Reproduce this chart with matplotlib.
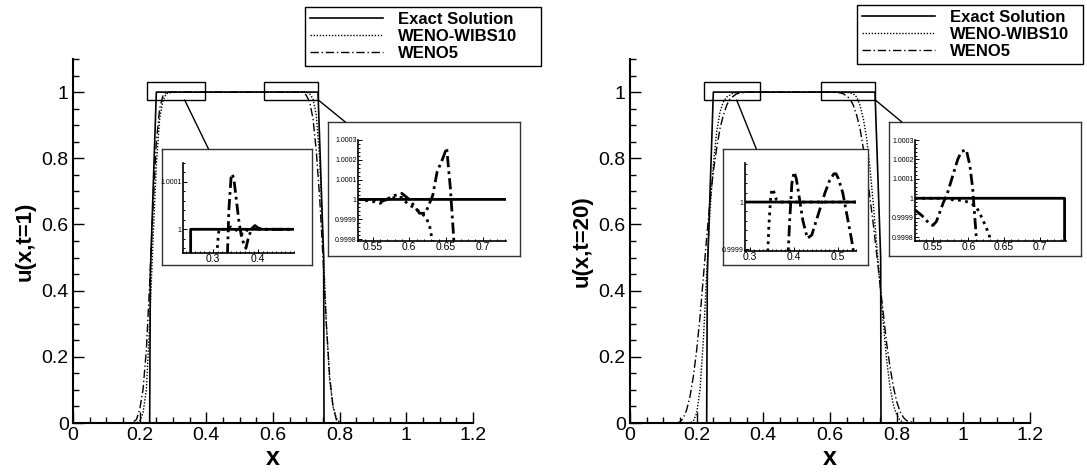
import matplotlib
matplotlib.use("Agg")
import matplotlib.pyplot as plt
from matplotlib.patches import Rectangle, ConnectionPatch
from matplotlib.ticker import MultipleLocator, FuncFormatter

plt.rcParams['font.family'] = ['Liberation Sans', 'DejaVu Sans']

W, H = 1087, 474

# exact solution (same for both times)
exact_x = [0.0, 0.23, 0.232, 0.25, 0.735, 0.752, 0.753, 1.2]
exact_u = [0.0, 0.0, 0.45, 1.0, 1.0, 0.5, 0.0, 0.0]

# t = 1, main plot
wibs_t1_x = [0.0, 0.19, 0.2, 0.21, 0.22, 0.23, 0.24, 0.25, 0.26, 0.27, 0.28, 0.3, 0.5,
             0.70, 0.71, 0.72, 0.73, 0.74, 0.75, 0.76, 0.77, 0.78, 0.79, 0.80, 0.81, 1.2]
wibs_t1_u = [0.0, 0.0, 0.005, 0.03, 0.1, 0.3, 0.55, 0.78, 0.92, 0.975, 0.995, 1.0, 1.0,
             1.0, 0.995, 0.98, 0.93, 0.8, 0.55, 0.3, 0.13, 0.05, 0.015, 0.002, 0.0, 0.0]
weno5_t1_x = [0.0, 0.175, 0.19, 0.2, 0.21, 0.22, 0.23, 0.24, 0.25, 0.26, 0.27, 0.28, 0.5,
              0.69, 0.70, 0.71, 0.72, 0.73, 0.74, 0.75, 0.76, 0.77, 0.78, 0.79, 0.80, 1.2]
weno5_t1_u = [0.0, 0.0, 0.01, 0.04, 0.1, 0.22, 0.42, 0.65, 0.85, 0.95, 0.99, 1.0, 1.0,
              1.0, 0.99, 0.97, 0.92, 0.82, 0.68, 0.5, 0.3, 0.14, 0.05, 0.01, 0.0, 0.0]

# t = 20, main plot
wibs_t20_x = [0.0, 0.18, 0.19, 0.2, 0.21, 0.22, 0.23, 0.24, 0.25, 0.26, 0.27, 0.28, 0.29, 0.31, 0.33, 0.5,
              0.65, 0.67, 0.68, 0.69, 0.70, 0.71, 0.72, 0.73, 0.74, 0.75, 0.76, 0.77, 0.78, 0.79,
              0.80, 0.81, 0.82, 0.83, 1.2]
wibs_t20_u = [0.0, 0.0, 0.005, 0.03, 0.1, 0.25, 0.45, 0.64, 0.78, 0.88, 0.94, 0.97, 0.985, 0.997, 1.0, 1.0,
              1.0, 0.995, 0.985, 0.96, 0.92, 0.86, 0.77, 0.66, 0.54, 0.42, 0.3, 0.19, 0.11, 0.055,
              0.025, 0.008, 0.002, 0.0, 0.0]
weno5_t20_x = [0.0, 0.14, 0.15, 0.16, 0.17, 0.18, 0.19, 0.2, 0.21, 0.22, 0.23, 0.24, 0.25, 0.26, 0.27,
               0.28, 0.29, 0.3, 0.32, 0.35, 0.5,
               0.62, 0.64, 0.66, 0.67, 0.68, 0.69, 0.70, 0.71, 0.72, 0.73, 0.74, 0.75, 0.76, 0.77,
               0.78, 0.79, 0.80, 0.81, 0.82, 0.83, 0.85, 0.86, 1.2]
weno5_t20_u = [0.0, 0.0, 0.003, 0.015, 0.04, 0.08, 0.14, 0.22, 0.32, 0.44, 0.56, 0.67, 0.76, 0.83, 0.89,
               0.93, 0.96, 0.98, 0.995, 1.0, 1.0,
               1.0, 0.995, 0.98, 0.96, 0.93, 0.89, 0.83, 0.76, 0.68, 0.6, 0.51, 0.42, 0.33, 0.24,
               0.17, 0.11, 0.065, 0.035, 0.017, 0.007, 0.001, 0.0, 0.0]

# zoomed details, t = 1
z1a_wibs_x = [0.305, 0.31, 0.313, 0.32, 0.33, 0.34, 0.35, 0.36, 0.37, 0.38, 0.39, 0.4, 0.48]
z1a_wibs_u = [0.9999, 0.99997, 1.0, 1.0, 1.0, 1.000005, 1.0, 0.99999, 0.99999, 1.000005, 1.0, 1.0, 1.0]
z1a_weno_x = [0.33, 0.332, 0.335, 0.34, 0.343, 0.347, 0.352, 0.357, 0.362, 0.368, 0.373, 0.378,
              0.385, 0.393, 0.4, 0.41, 0.48]
z1a_weno_u = [0.9999, 0.99995, 1.00004, 1.00011, 1.000117, 1.0001, 1.00006, 1.00002, 0.99999,
              0.99997, 0.99996, 0.99998, 1.0, 1.000008, 1.000003, 1.0, 1.0]
z1b_wibs_x = [0.53, 0.55, 0.56, 0.57, 0.58, 0.59, 0.597, 0.61, 0.623, 0.628, 0.632]
z1b_wibs_u = [1.0, 0.99999, 0.99998, 1.0, 1.00001, 1.00001, 0.99998, 0.99995, 0.99991, 0.99986, 0.99978]
z1b_weno_x = [0.53, 0.55, 0.563, 0.58, 0.59, 0.6, 0.614, 0.622, 0.632, 0.638, 0.645, 0.651,
              0.656, 0.66, 0.661]
z1b_weno_u = [1.0, 1.0, 0.99999, 1.00002, 1.00003, 1.0, 0.99993, 0.99993, 1.00002, 1.00014, 1.0002,
              1.00026, 1.00006, 0.99984, 0.99978]

# zoomed details, t = 20
z20a_wibs_x = [0.34, 0.343, 0.347, 0.35, 0.355, 0.36, 0.37, 0.54]
z20a_wibs_u = [0.99988, 0.99995, 1.00001, 1.000028, 1.00002, 1.000005, 1.0, 1.0]
z20a_weno_x = [0.386, 0.39, 0.395, 0.4, 0.405, 0.41, 0.415, 0.42, 0.43, 0.44, 0.45, 0.46, 0.47,
               0.48, 0.49, 0.495, 0.5, 0.51, 0.52, 0.53, 0.537]
z20a_weno_u = [0.99988, 0.99996, 1.00004, 1.000064, 1.00005, 1.00002, 0.99999, 0.99996, 0.999923,
               0.99993, 0.99996, 0.99999, 1.00002, 1.000045, 1.00006, 1.00006, 1.00005, 1.00002,
               0.99997, 0.99992, 0.99988]
z20b_wibs_x = [0.525, 0.56, 0.57, 0.58, 0.59, 0.6, 0.61, 0.615, 0.62, 0.625, 0.63, 0.632]
z20b_wibs_u = [1.0, 1.0, 1.0, 0.99999, 0.99999, 0.99998, 0.99996, 0.99993, 0.99989, 0.99985, 0.9998, 0.99977]
z20b_weno_x = [0.525, 0.535, 0.545, 0.55, 0.555, 0.56, 0.565, 0.57, 0.575, 0.58, 0.585, 0.59,
               0.597, 0.602, 0.606, 0.609, 0.611, 0.612]
z20b_weno_u = [0.99994, 0.99991, 0.99987, 0.99986, 0.99988, 0.99993, 0.99998, 1.00002, 1.00008,
               1.00014, 1.0002, 1.00024, 1.00025, 1.00017, 1.00005, 0.9999, 0.9998, 0.99977]

labels = ['Exact Solution', 'WENO-WIBS10', 'WENO5']
DOT = (0, (1, 1.2))
DASHDOT = (0, (6, 2, 1, 2))


def rect(l, t, r, b):
    return [l / W, 1 - b / H, (r - l) / W, (b - t) / H]


def fmt(v, pos):
    return '%g' % round(v, 6)


fig = plt.figure(figsize=(W / 100, H / 100), dpi=100)


def main_panel(left, ylabel, wx, wu, ex, eu, boxes, legend_box):
    ax = fig.add_axes(rect(left, 59, left + 400, 423))
    ax.plot(exact_x, exact_u, color='black', lw=1.2, ls='-', label=labels[0])
    ax.plot(wx, wu, color='black', lw=1.0, ls=DOT, label=labels[1])
    ax.plot(ex, eu, color='black', lw=1.0, ls=DASHDOT, label=labels[2])
    ax.set_xlim(0, 1.2)
    ax.set_ylim(0, 1.1)
    ax.xaxis.set_major_locator(MultipleLocator(0.2))
    ax.xaxis.set_minor_locator(MultipleLocator(0.05))
    ax.yaxis.set_major_locator(MultipleLocator(0.2))
    ax.yaxis.set_minor_locator(MultipleLocator(0.05))
    ax.xaxis.set_major_formatter(FuncFormatter(fmt))
    ax.yaxis.set_major_formatter(FuncFormatter(fmt))
    for s in ['top', 'right']:
        ax.spines[s].set_visible(False)
    for s in ['left', 'bottom']:
        ax.spines[s].set_linewidth(1.5)
    ax.tick_params(which='both', direction='in', width=1, labelsize=14)
    ax.tick_params(which='major', length=8, pad=3)
    ax.tick_params(which='minor', length=4)
    ax.set_xlabel('x', fontsize=18, fontweight='bold', labelpad=1)
    ax.set_ylabel(ylabel, fontsize=16, fontweight='bold', labelpad=4)
    for (x0, x1) in boxes:
        ax.add_patch(Rectangle((x0, 0.976), x1 - x0, 0.054, fill=False, lw=1.0,
                               edgecolor='black', zorder=5))
    ax.legend(loc='upper left', bbox_to_anchor=legend_box, bbox_transform=fig.transFigure,
              mode='expand', borderaxespad=0, fancybox=False, edgecolor='black', framealpha=1,
              handlelength=4.4, handletextpad=0.85, labelspacing=0.12, borderpad=0.3,
              prop={'weight': 'bold', 'size': 12})
    ax.get_legend().get_frame().set_linewidth(1.0)
    return ax


def inset(box_px, ax_px, xlim, ylim, xmaj, xmin, wx, wu, ex, eu):
    box = fig.add_axes(rect(*box_px))
    box.set_xticks([])
    box.set_yticks([])
    for s in box.spines.values():
        s.set_linewidth(1.0)
        s.set_edgecolor('#333333')
    ia = fig.add_axes(rect(*ax_px))
    ia.set_facecolor('none')
    ia.plot(exact_x, exact_u, color='black', lw=2.0, ls='-')
    ia.plot(wx, wu, color='black', lw=2.0, ls=(0, (1, 1.6)))
    ia.plot(ex, eu, color='black', lw=2.0, ls=(0, (4, 1.5, 1, 1.5)))
    ia.set_xlim(*xlim)
    ia.set_ylim(*ylim)
    ia.xaxis.set_major_locator(MultipleLocator(xmaj))
    ia.xaxis.set_minor_locator(MultipleLocator(xmin))
    ia.yaxis.set_major_locator(MultipleLocator(0.0001))
    ia.yaxis.set_minor_locator(MultipleLocator(0.00002))
    ia.xaxis.set_major_formatter(FuncFormatter(fmt))
    ia.yaxis.set_major_formatter(FuncFormatter(fmt))
    for s in ['top', 'right']:
        ia.spines[s].set_visible(False)
    for s in ['left', 'bottom']:
        ia.spines[s].set_linewidth(1.2)
    ia.tick_params(which='both', direction='in', width=0.7)
    ia.tick_params(which='major', length=3, pad=1)
    ia.tick_params(which='minor', length=1.5)
    ia.tick_params(axis='x', labelsize=7.5)
    ia.tick_params(axis='y', labelsize=5)
    return box


ax1 = main_panel(73, 'u(x,t=1)', wibs_t1_x, wibs_t1_u, weno5_t1_x, weno5_t1_u,
                 [(0.222, 0.396), (0.574, 0.736)], (305 / W, 1 - 7 / H, 236 / W, 0))
ax2 = main_panel(630, 'u(x,t=20)', wibs_t20_x, wibs_t20_u, weno5_t20_x, weno5_t20_u,
                 [(0.222, 0.39), (0.574, 0.736)], (857 / W, 1 - 5 / H, 226 / W, 0))

b1 = inset((162, 149, 312, 265), (183, 163, 294, 253), (0.233, 0.48), (0.99995, 1.00014),
           0.1, 0.01, z1a_wibs_x, z1a_wibs_u, z1a_weno_x, z1a_weno_u)
b2 = inset((328, 122, 520, 256), (358, 140, 506, 241), (0.53, 0.732), (0.99979, 1.0003),
           0.05, 0.01, z1b_wibs_x, z1b_wibs_u, z1b_weno_x, z1b_weno_u)
b3 = inset((723, 149, 868, 265), (745, 163, 856, 251), (0.289, 0.54), (0.999896, 1.000083),
           0.1, 0.01, z20a_wibs_x, z20a_wibs_u, z20a_weno_x, z20a_weno_u)
b4 = inset((889, 122, 1081, 256), (915, 140, 1066, 241), (0.525, 0.737), (0.99978, 1.0003),
           0.05, 0.01, z20b_wibs_x, z20b_wibs_u, z20b_weno_x, z20b_weno_u)

for ax, xa, box, xb in [(ax1, 0.335, b1, 0.31), (ax1, 0.736, b2, 0.09),
                        (ax2, 0.32, b3, 0.23), (ax2, 0.736, b4, 0.067)]:
    con = ConnectionPatch(xyA=(xa, 0.976), coordsA='data', axesA=ax,
                          xyB=(xb, 1.0), coordsB='axes fraction', axesB=box,
                          color='black', lw=1.0)
    fig.add_artist(con)

fig.savefig('out.png', dpi=100)
